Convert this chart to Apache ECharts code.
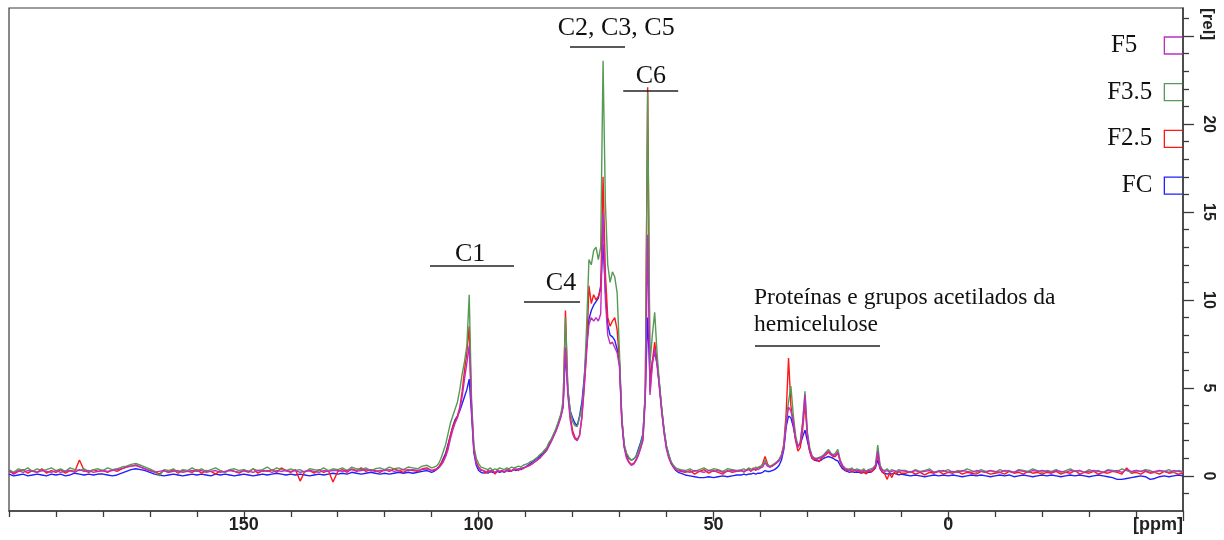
<!DOCTYPE html>
<html>
<head>
<meta charset="utf-8">
<script src="https://cdn.jsdelivr.net/npm/echarts@6/dist/echarts.min.js"></script>
<style>html,body{margin:0;padding:0;background:#fff}#chart{width:1224px;height:540px}</style>
</head>
<body>
<div id="chart"></div>
<script>
// chemical shift grid (ppm)
const ppm = [
200,199,198,197,196,195,194,193,192,191,
190,189,188,187,186,185,184,183,182,181,
180,179,178,177,176,175,174,173,172,171,
170,169,168,167,166,165,164,163,162,161,
160,159,158,157,156,155,154,153,152,151,
150,149,148,147,146,145,144,143,142,141,
140,139,138,137,136,135,134,133,132,131,
130,129,128,127,126,125,124,123,122,121,
120,119,118,117,116,115,114,113,112,111,
110,109.5,109,108.5,108,107.5,107,106.5,106,105.5,
105,104.5,104,103.5,103,102.5,102,101.5,101,100.5,
100,99.5,99,98.5,98,97.5,97,96.5,96,95.5,
95,94.5,94,93.5,93,92.5,92,91.5,91,90.5,
90,89.5,89,88.5,88,87.5,87,86.5,86,85.5,
85,84.5,84,83.5,83,82.5,82,81.5,81,80.5,
80,79.5,79,78.5,78,77.5,77,76.5,76,75.5,
75,74.5,74,73.5,73,72.5,72,71.5,71,70.5,
70,69.5,69,68.5,68,67.5,67,66.5,66,65.5,
65,64.5,64,63.5,63,62.5,62,61.5,61,60.5,
60,59.5,59,58.5,58,57.5,57,
56,55,54,53,52,51,50,49,48,47,46,45,
44,43.5,43,42.5,42,41.5,41,40.5,40,39.5,
39,38.5,38,37.5,37,36.5,36,35.5,35,34.5,
34,33.5,33,32.5,32,31.5,31,30.5,30,29.5,
29,28.5,28,27.5,27,26.5,26,25.5,25,24.5,
24,23.5,23,22.5,22,21.5,21,20.5,20,19.5,
19,18.5,18,17.5,17,16.5,16,15.5,15,14.5,
14,13.5,13,12.5,12,11.5,11,10.5,10,
9,8,7,6,5,4,3,2,1,0,
-1,-2,-3,-4,-5,-6,-7,-8,-9,-10,
-11,-12,-13,-14,-15,-16,-17,-18,-19,-20,
-21,-22,-23,-24,-25,-26,-27,-28,-29,-30,
-31,-32,-33,-34,-35,-36,-37,-38,-39,-40,
-41,-42,-43,-44,-45,-46,-47,-48,-49,-50
];

const FC = [
0.1,0.0,0.05,0.1,0.0,0.05,0.1,0.05,0.0,0.1,
0.05,0.1,0.0,0.05,0.15,0.1,0.05,0.1,0.05,0.1,
0.1,0.05,0.0,0.05,0.15,0.25,0.35,0.4,0.35,0.3,
0.2,0.1,0.05,0.0,0.05,0.1,0.05,0.0,0.05,0.1,
0.05,0.1,0.05,0.0,0.1,0.05,0.1,0.05,0.0,0.05,
0.1,0.05,0.0,0.05,0.1,0.05,0.1,0.15,0.1,0.05,
0.1,0.05,0.1,0.05,0.0,0.05,0.1,0.05,0.1,0.15,
0.1,0.15,0.1,0.2,0.15,0.1,0.15,0.2,0.15,0.1,
0.15,0.1,0.15,0.2,0.15,0.2,0.15,0.2,0.25,0.3,
0.2,0.25,0.35,0.5,0.7,1.0,1.3,1.8,2.3,2.8,
3.2,3.4,3.7,4.1,4.5,4.9,5.5,3.5,1.3,0.6,
0.3,0.2,0.15,0.2,0.15,0.25,0.2,0.15,0.25,0.2,
0.25,0.2,0.3,0.25,0.3,0.35,0.3,0.4,0.35,0.45,
0.5,0.6,0.7,0.8,0.9,1.0,1.1,1.25,1.4,1.55,
1.85,2.05,2.35,2.65,3.0,3.4,4.0,7.0,4.9,3.7,
3.3,3.0,2.85,3.4,4.2,5.6,7.4,8.9,9.4,9.7,
9.9,10.1,10.8,13.2,10.5,8.6,8.0,7.9,7.7,7.2,
6.4,3.2,1.7,1.2,1.0,0.9,0.95,1.1,1.5,1.9,
2.4,4.7,9.0,5.5,6.5,7.0,6.4,5.2,3.8,2.6,
1.7,1.2,0.75,0.5,0.3,0.2,0.15,
0.05,0.0,-0.05,-0.1,-0.1,-0.05,-0.1,-0.05,0.0,-0.05,0.0,0.05,
0.05,0.1,0.05,0.1,0.1,0.15,0.1,0.15,0.15,0.2,
0.3,0.25,0.25,0.3,0.35,0.45,0.6,0.9,1.5,2.8,
3.4,3.3,2.8,2.1,1.7,1.8,2.2,2.6,2.0,1.4,
1.0,0.9,0.85,0.85,0.9,1.0,1.05,1.1,1.05,1.0,
0.9,0.85,0.6,0.4,0.3,0.25,0.2,0.25,0.2,0.2,
0.2,0.15,0.2,0.15,0.2,0.2,0.3,0.45,0.9,0.4,
0.2,0.15,0.1,0.15,0.1,0.15,0.1,0.05,0.1,
0.05,0.0,0.05,0.0,-0.05,0.0,0.05,0.0,0.05,0.0,
0.05,0.0,-0.05,0.0,0.05,0.0,0.05,0.0,-0.05,0.0,
0.05,0.0,0.05,-0.05,0.0,0.05,0.0,-0.05,0.0,0.05,
0.0,0.05,0.0,-0.05,0.0,0.05,0.0,0.05,0.0,-0.05,
0.0,0.05,0.0,-0.05,-0.1,-0.2,-0.2,-0.15,-0.1,-0.05,
0.0,-0.05,-0.2,-0.15,-0.05,0.0,-0.05,0.0,0.05,0.0
];

const F25 = [
0.3,0.1,0.25,0.35,0.15,0.3,0.2,0.4,0.15,0.3,
0.2,0.35,0.15,0.3,0.25,0.9,0.3,0.2,0.35,0.25,
0.3,0.2,0.35,0.25,0.4,0.5,0.55,0.6,0.5,0.4,
0.3,0.25,0.1,0.3,0.2,0.35,0.15,0.3,0.25,0.2,
0.35,0.15,0.3,0.25,0.1,0.3,0.2,0.35,0.25,0.15,
0.3,0.2,0.4,0.15,0.3,0.25,0.35,0.2,0.45,0.3,
0.2,0.35,-0.3,0.25,0.3,0.15,0.35,0.2,0.3,-0.35,
0.25,0.35,0.2,0.4,0.3,0.45,0.25,0.35,0.3,0.2,
0.35,0.25,0.4,0.3,0.2,0.35,0.3,0.25,0.4,0.45,
0.3,0.35,0.4,0.5,0.7,0.9,1.2,1.7,2.3,2.8,
3.1,3.4,3.9,4.8,6.0,7.0,8.5,4.0,1.5,0.8,
0.5,0.35,0.3,0.15,0.3,0.2,0.35,0.1,0.3,0.25,
0.3,0.2,0.35,0.3,0.25,0.4,0.35,0.3,0.45,0.4,
0.5,0.55,0.6,0.7,0.8,0.9,1.0,1.15,1.3,1.45,
1.75,2.0,2.3,2.6,3.0,3.4,4.0,9.4,4.8,3.4,
2.6,2.2,2.05,2.3,3.3,5.0,7.0,10.8,9.8,10.3,
10.0,10.2,10.6,17.0,11.5,9.0,8.5,8.8,9.0,8.3,
6.5,3.2,1.7,1.1,0.8,0.65,0.7,0.9,1.2,1.6,
2.1,4.6,22.1,4.8,6.5,7.6,6.5,5.1,3.7,2.5,
1.6,1.1,0.7,0.5,0.35,0.3,0.25,
0.2,0.3,0.1,0.25,0.35,0.15,0.3,0.2,0.1,0.3,0.2,0.25,
0.3,0.2,0.35,0.4,0.25,0.45,0.3,0.5,0.45,0.7,
1.1,0.7,0.5,0.55,0.65,0.75,0.9,1.2,1.8,3.6,
6.7,4.0,3.0,2.0,1.4,1.6,2.6,4.1,2.3,1.4,
1.0,0.9,0.95,0.8,1.0,1.1,1.2,1.35,1.2,1.1,
1.1,1.3,0.8,0.5,0.35,0.3,0.4,0.2,0.35,0.25,
0.3,0.15,0.25,0.1,0.3,0.2,0.3,0.5,1.2,0.45,
0.2,0.1,-0.2,0.15,-0.1,0.2,0.1,0.25,0.15,
0.15,0.25,0.1,0.2,0.05,0.2,0.15,0.25,0.1,0.2,
0.15,0.25,0.1,0.2,0.15,0.1,0.25,0.2,0.1,0.15,
0.2,0.1,0.25,0.15,0.2,0.1,0.25,0.15,0.2,0.1,
0.2,0.15,0.25,0.1,0.2,0.15,0.3,0.1,0.2,0.15,
0.25,0.1,0.2,0.15,0.25,0.2,0.1,0.45,0.15,0.2,
0.1,0.25,0.15,0.2,0.1,0.25,0.15,0.2,0.1,0.15
];

const F35 = [
0.35,0.2,0.4,0.3,0.45,0.25,0.4,0.3,0.35,0.45,
0.3,0.4,0.25,0.45,0.35,0.3,0.4,0.25,0.35,0.4,
0.3,0.45,0.35,0.4,0.5,0.55,0.65,0.7,0.6,0.5,
0.4,0.25,0.0,0.35,0.3,0.4,0.2,0.35,0.3,0.45,
0.3,0.4,0.25,0.35,0.45,0.3,0.2,0.35,0.4,0.3,
0.35,0.25,0.4,0.3,0.35,0.5,0.3,0.45,0.35,0.3,
0.4,0.3,0.35,0.2,0.4,0.35,0.3,0.45,0.3,0.4,
0.35,0.45,0.3,0.5,0.4,0.35,0.45,0.3,0.4,0.45,
0.35,0.5,0.4,0.45,0.35,0.5,0.45,0.4,0.55,0.6,
0.45,0.5,0.55,0.7,1.0,1.4,1.8,2.4,3.0,3.4,
3.8,4.2,4.9,5.8,6.5,7.4,10.3,4.3,1.7,1.0,
0.7,0.5,0.45,0.4,0.35,0.45,0.3,0.4,0.35,0.45,
0.4,0.35,0.45,0.4,0.5,0.45,0.5,0.55,0.5,0.6,
0.65,0.7,0.8,0.85,0.95,1.05,1.2,1.3,1.45,1.6,
1.9,2.1,2.4,2.7,3.1,3.5,4.3,9.0,5.0,3.7,
3.1,2.85,2.8,3.3,3.9,5.4,8.5,12.3,12.0,12.8,
13.0,12.3,13.0,23.6,15.5,12.0,11.0,11.6,11.3,10.4,
7.0,3.3,1.8,1.3,1.05,0.9,0.95,1.1,1.4,1.8,
2.3,4.8,21.8,6.4,8.0,9.3,7.0,5.3,3.8,2.6,
1.7,1.2,0.8,0.6,0.45,0.4,0.35,
0.3,0.4,0.25,0.35,0.45,0.3,0.4,0.35,0.25,0.4,0.35,0.3,
0.35,0.4,0.3,0.45,0.4,0.35,0.5,0.45,0.55,0.6,
0.9,0.6,0.55,0.6,0.7,0.8,0.95,1.2,1.7,3.2,
4.2,5.1,3.5,2.3,1.7,1.9,3.0,4.8,2.5,1.6,
1.15,1.0,1.0,1.05,1.1,1.2,1.35,1.5,1.3,1.2,
1.3,1.5,0.9,0.6,0.45,0.4,0.35,0.45,0.3,0.4,
0.35,0.3,0.4,0.25,0.35,0.4,0.45,0.6,1.75,0.6,
0.35,0.3,0.4,0.25,0.35,0.3,0.25,0.35,0.3,
0.3,0.2,0.35,0.25,0.3,0.4,0.2,0.3,0.25,0.35,
0.2,0.3,0.25,0.4,0.3,0.2,0.35,0.25,0.3,0.2,
0.35,0.25,0.3,0.2,0.35,0.3,0.25,0.4,0.3,0.2,
0.3,0.25,0.35,0.2,0.3,0.4,0.25,0.3,0.2,0.35,
0.25,0.3,0.2,0.35,0.3,0.25,0.4,0.3,0.2,0.3,
0.25,0.35,0.3,0.2,0.3,0.25,0.35,0.2,0.3,0.25
];

const F5 = [
0.25,0.15,0.3,0.2,0.3,0.25,0.2,0.3,0.25,0.2,
0.3,0.2,0.25,0.3,0.2,0.35,0.25,0.3,0.2,0.25,
0.3,0.25,0.3,0.35,0.4,0.5,0.55,0.6,0.5,0.4,
0.3,0.2,0.25,0.3,0.2,0.25,0.3,0.2,0.25,0.3,
0.25,0.3,0.2,0.25,0.3,0.2,0.25,0.3,0.25,0.2,
0.3,0.25,0.2,0.3,0.25,0.3,0.2,0.3,0.25,0.3,
0.25,0.3,0.2,0.25,0.3,0.25,0.2,0.3,0.25,0.3,
0.3,0.25,0.3,0.35,0.25,0.3,0.35,0.3,0.25,0.3,
0.3,0.35,0.25,0.3,0.35,0.3,0.35,0.3,0.35,0.4,
0.3,0.3,0.35,0.45,0.6,0.8,1.1,1.5,2.1,2.6,
3.0,3.3,3.8,4.5,5.5,6.4,7.4,3.8,1.4,0.7,
0.45,0.3,0.3,0.25,0.2,0.3,0.25,0.2,0.3,0.25,
0.3,0.25,0.3,0.35,0.3,0.35,0.4,0.35,0.4,0.45,
0.5,0.55,0.65,0.7,0.8,0.9,1.0,1.15,1.3,1.45,
1.7,1.95,2.25,2.55,2.9,3.3,3.9,7.3,4.6,3.2,
2.4,2.1,2.0,2.3,3.4,5.2,7.2,8.6,9.0,8.8,
9.0,8.8,9.2,15.0,10.0,8.0,7.5,7.6,7.3,7.0,
6.2,3.0,1.6,1.0,0.75,0.6,0.65,0.85,1.15,1.55,
2.0,4.4,13.7,4.6,6.3,7.2,6.3,5.0,3.6,2.4,
1.5,1.0,0.7,0.5,0.35,0.3,0.3,
0.25,0.2,0.3,0.25,0.2,0.3,0.25,0.3,0.2,0.25,0.3,0.25,
0.3,0.25,0.3,0.35,0.3,0.35,0.4,0.35,0.45,0.5,
0.75,0.55,0.5,0.55,0.65,0.75,0.85,1.1,1.6,3.0,
3.9,3.7,3.1,2.1,1.6,1.9,3.0,4.6,2.4,1.5,
1.1,1.0,0.95,1.0,1.05,1.15,1.3,1.4,1.25,1.15,
1.2,1.35,0.85,0.55,0.4,0.35,0.3,0.35,0.3,0.3,
0.3,0.25,0.3,0.25,0.3,0.3,0.4,0.55,1.4,0.5,
0.3,0.25,0.3,0.2,0.25,0.3,0.2,0.25,0.3,
0.25,0.2,0.3,0.2,0.25,0.3,0.2,0.25,0.3,0.2,
0.25,0.2,0.3,0.25,0.2,0.3,0.25,0.2,0.3,0.25,
0.2,0.3,0.25,0.2,0.3,0.25,0.2,0.3,0.25,0.3,
0.25,0.2,0.3,0.25,0.2,0.3,0.25,0.3,0.2,0.25,
0.3,0.25,0.2,0.3,0.25,0.3,0.2,0.35,0.25,0.3,
0.25,0.3,0.2,0.25,0.3,0.25,0.2,0.3,0.25,0.2
];

// axis ticks and labels
const xMajorTicks = [150, 100, 50, 0, -50];
const xMinorTicks = [200,190,180,170,160,140,130,120,110,90,80,70,60,40,30,20,10,-10,-20,-30,-40];
const xLabels = [150, 100, 50, 0];
const yMajorTicks = [0, 5, 10, 15, 20, 25];
const yMinorTicks = [-1,1,2,3,4,6,7,8,9,11,12,13,14,16,17,18,19,21,22,23,24,26];
const yLabels = [0, 5, 10, 15, 20];

// peak assignment annotations
const annoTexts = ['C2, C3, C5', 'C6', 'C1', 'C4', 'Proteínas e grupos acetilados da\nhemicelulose'];
const annoX = [70.7, 63.3, 101.8, 82.45, 41.35];
const annoY = [25.45, 22.7, 12.6, 10.97, 9.35];
const barX1 = [80.54, 69.2, 110.35, 90.33, 41.14];
const barX2 = [68.82, 57.5, 92.46, 78.4, 14.52];
const barY = [24.4, 21.9, 11.93, 9.89, 7.39];

const names = ['FC', 'F2.5', 'F3.5', 'F5'];
const colors = {'FC': '#1f1fff', 'F2.5': '#ff1717', 'F3.5': '#559a55', 'F5': '#c02cc0'};
const valueSets = {'FC': FC, 'F2.5': F25, 'F3.5': F35, 'F5': F5};

Object.keys(valueSets).forEach(k => {
  if (valueSets[k].length !== ppm.length) console.error('length mismatch', k, valueSets[k].length, ppm.length);
});

const serif = '"Liberation Serif", "Times New Roman", serif';
const sans = '"Liberation Sans", Arial, sans-serif';

const series = names.map((n, si) => ({
  name: n,
  type: 'line',
  xAxisIndex: 0,
  yAxisIndex: 0,
  data: ppm.map((x, i) => [x, valueSets[n][i]]),
  showSymbol: false,
  symbol: 'none',
  lineStyle: {width: 1.4, color: colors[n]},
  itemStyle: {color: colors[n]},
  z: 2 + si,
  animation: false,
  emphasis: {disabled: true}
}));

// annotation layer (text + bars) placed in data coordinates
series.push({
  name: 'annotations',
  type: 'line',
  xAxisIndex: 0,
  yAxisIndex: 0,
  data: [],
  symbol: 'none',
  animation: false,
  z: 10,
  markLine: {
    silent: true,
    symbol: ['none', 'none'],
    animation: false,
    label: {show: false},
    lineStyle: {color: '#222', width: 1.5, type: 'solid'},
    emphasis: {disabled: true},
    data: barY.map((y, i) => [{coord: [barX1[i], y]}, {coord: [barX2[i], y]}])
  },
  markPoint: {
    silent: true,
    animation: false,
    symbol: 'rect',
    symbolSize: [1, 1],
    itemStyle: {color: 'rgba(0,0,0,0)'},
    data: annoTexts.map((t, i) => ({
      name: t,
      coord: [annoX[i], annoY[i]],
      label: {
        show: true,
        position: 'inside',
        formatter: t,
        color: '#111',
        fontFamily: serif,
        fontSize: i === 4 ? 23.5 : 26,
        lineHeight: 27,
        align: i === 4 ? 'left' : 'center',
        verticalAlign: 'middle'
      }
    }))
  }
});

const axisColor = '#3a3a3a';

const option = {
  backgroundColor: '#fff',
  animation: false,
  grid: {left: 9, right: 41, top: 8, bottom: 29, show: true, borderColor: axisColor, borderWidth: 1.2, backgroundColor: 'transparent'},
  xAxis: [
    {
      type: 'value', inverse: true, min: -50, max: 200, position: 'bottom',
      axisLine: {show: true, onZero: false, lineStyle: {color: axisColor, width: 1.5}},
      axisTick: {show: true, inside: false, length: 10, customValues: xMajorTicks, lineStyle: {color: axisColor, width: 1.3}},
      axisLabel: {show: true, customValues: xLabels, margin: 5, color: '#222', fontFamily: sans, fontWeight: 'bold', fontSize: 18},
      splitLine: {show: false}
    },
    {
      type: 'value', inverse: true, min: -50, max: 200, position: 'bottom',
      axisLine: {show: false, onZero: false},
      axisTick: {show: true, inside: false, length: 6, customValues: xMinorTicks, lineStyle: {color: axisColor, width: 1.3}},
      axisLabel: {show: false},
      splitLine: {show: false}
    }
  ],
  yAxis: [
    {
      type: 'value', min: -2, max: 26.6, position: 'right',
      axisLine: {show: true, onZero: false, lineStyle: {color: axisColor, width: 1.5}},
      axisTick: {show: true, inside: false, length: 11, customValues: yMajorTicks, lineStyle: {color: axisColor, width: 1.3}},
      axisLabel: {show: true, customValues: yLabels, rotate: -90, margin: 17, color: '#222', fontFamily: sans, fontWeight: 'bold', fontSize: 16},
      splitLine: {show: false}
    },
    {
      type: 'value', min: -2, max: 26.6, position: 'right',
      axisLine: {show: false, onZero: false},
      axisTick: {show: true, inside: false, length: 6, customValues: yMinorTicks, lineStyle: {color: axisColor, width: 1.3}},
      axisLabel: {show: false},
      splitLine: {show: false}
    }
  ],
  legend: {
    data: ['F5', 'F3.5', 'F2.5', 'FC'].map(n => ({
      name: n,
      itemStyle: {color: 'rgba(0,0,0,0)', borderColor: colors[n], borderWidth: 1.3}
    })),
    orient: 'vertical',
    right: 41,
    top: 33,
    padding: 0,
    align: 'right',
    icon: 'path://M18,0L0,0L0,17L18,17',
    itemWidth: 18,
    itemHeight: 17,
    itemGap: 21.7,
    selectedMode: false,
    formatter: n => n === 'F5' ? '{w|F5}' : n,
    textStyle: {
      fontFamily: serif, fontSize: 25, color: '#111', padding: [0, 7, 0, 0],
      rich: {w: {fontFamily: serif, fontSize: 25, color: '#111', padding: [0, 15, 0, 0]}}
    }
  },
  graphic: [
    {type: 'text', right: 41, bottom: 6, style: {text: '[ppm]', font: 'bold 18px "Liberation Sans", Arial, sans-serif', fill: '#222'}},
    {type: 'text', x: 1199, y: 8, rotation: -Math.PI / 2, style: {text: '[rel]', font: 'bold 17px "Liberation Sans", Arial, sans-serif', fill: '#222', textAlign: 'left', textVerticalAlign: 'bottom'}}
  ],
  series: series
};

const chart = echarts.init(document.getElementById('chart'), null, {renderer: 'canvas'});
chart.setOption(option);
</script>
</body>
</html>
